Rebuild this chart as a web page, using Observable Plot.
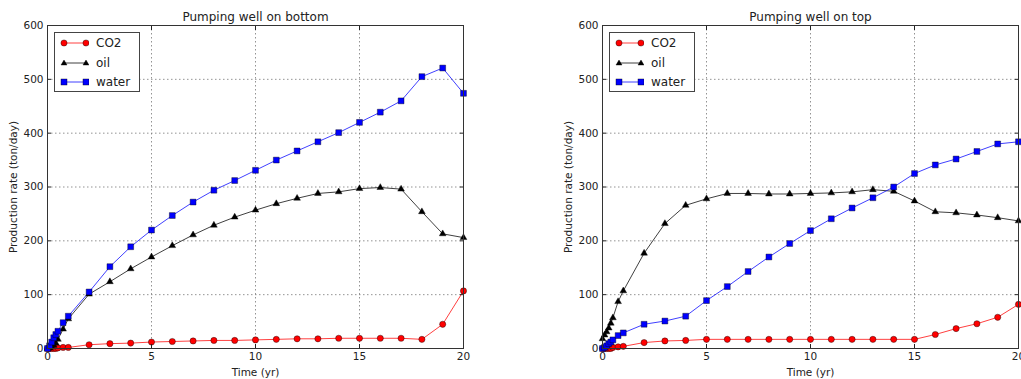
<!DOCTYPE html>
<html>
<head>
<meta charset="utf-8">
<script src="https://cdn.jsdelivr.net/npm/d3@7"></script>
<script src="https://cdn.jsdelivr.net/npm/@observablehq/plot@0.6"></script>
<style>
  html, body { margin: 0; padding: 0; background: #fff; overflow: hidden; }
  #fig { position: relative; width: 1021px; height: 379px; font-family: "DejaVu Sans", sans-serif; }
  .panel { position: absolute; top: 0; }
  .legend { position: absolute; border: 1px solid #444; background: #fff; box-sizing: border-box; font-family: "DejaVu Sans", sans-serif; font-size: 12px; color: #222; }
  .legend .row { position: absolute; left: 0; height: 18px; line-height: 18px; white-space: nowrap; }
  .legend svg { position: absolute; left: 4px; top: 0; }
  .legend span { position: absolute; left: 41px; top: 0; }
</style>
</head>
<body>
<div id="fig"></div>
<script>
// Shared time axis (years)
const time = [0, 0.1, 0.2, 0.3, 0.4, 0.5, 0.75, 1, 2, 3, 4, 5, 6, 7, 8, 9, 10, 11, 12, 13, 14, 15, 16, 17, 18, 19, 20];

// Pumping well on bottom
const bottomCO2   = [0, 0, 0, 0, 0, 1, 2, 2, 7, 9, 10, 12, 13, 14, 15, 15, 16, 17, 18, 18, 19, 19, 19, 19, 17, 45, 107];
const bottomOil   = [0, 1, 3, 6, 10, 17, 36, 55, 101, 124, 148, 170, 191, 211, 229, 244, 257, 269, 279, 288, 291, 297, 299, 296, 254, 213, 206];
const bottomWater = [0, 5, 12, 20, 26, 32, 48, 60, 105, 152, 189, 220, 247, 272, 294, 312, 331, 350, 367, 384, 401, 420, 439, 460, 505, 521, 474];

// Pumping well on top
const topCO2   = [0, 0, 0, 0, 0, 2, 3, 4, 11, 14, 15, 17, 17, 17, 17, 17, 17, 17, 17, 17, 17, 17, 26, 37, 46, 58, 82];
const topOil   = [18, 25, 31, 38, 47, 57, 87, 107, 177, 232, 266, 278, 288, 288, 287, 287, 288, 289, 291, 295, 292, 274, 254, 252, 248, 243, 237];
const topWater = [0, 2, 5, 9, 12, 16, 24, 29, 45, 51, 60, 89, 115, 143, 170, 195, 219, 241, 261, 280, 300, 325, 341, 352, 366, 380, 384];

const xTicks = [0, 5, 10, 15, 20];
const yTicks = [0, 100, 200, 300, 400, 500, 600];
const seriesNames = ["CO2", "oil", "water"];
const seriesColors = ["#ff0000", "#000000", "#0000ff"];
const seriesSymbols = ["circle", "triangle", "square"];

function buildRows(co2, oil, water) {
  const rows = [];
  [co2, oil, water].forEach((vals, i) => {
    vals.forEach((v, j) => rows.push({series: seriesNames[i], t: time[j], v}));
  });
  return rows;
}

function chart(title, co2, oil, water, width, mLeft, mRight) {
  const rows = buildRows(co2, oil, water);
  const lineMarks = seriesNames.map((s, i) =>
    Plot.line(rows.filter(d => d.series === s), {x: "t", y: "v", stroke: seriesColors[i], strokeWidth: 1, strokeOpacity: 0.75})
  );
  const dotMarks = seriesNames.map((s, i) =>
    Plot.dot(rows.filter(d => d.series === s), {
      x: "t", y: "v", symbol: seriesSymbols[i], fill: seriesColors[i],
      stroke: "#000", strokeWidth: 0.4,
      r: seriesSymbols[i] === "triangle" ? 2.5 : seriesSymbols[i] === "square" ? 3.3 : 3.1
    })
  );
  return Plot.plot({
    width, height: 379,
    marginTop: 25, marginBottom: 31, marginLeft: mLeft, marginRight: mRight,
    style: {fontFamily: "DejaVu Sans, sans-serif", fontSize: "10px", color: "#222", background: "transparent", overflow: "visible"},
    x: {domain: [0, 20]},
    y: {domain: [0, 600]},
    marks: [
      Plot.gridX(xTicks, {stroke: "#777", strokeOpacity: 1, strokeDasharray: "1.5,2.5", strokeWidth: 0.8}),
      Plot.gridY(yTicks, {stroke: "#777", strokeOpacity: 1, strokeDasharray: "1.5,2.5", strokeWidth: 0.8}),
      ...lineMarks,
      ...dotMarks,
      Plot.axisX(xTicks, {anchor: "bottom", tickSize: -4, tickPadding: 8, fontSize: 10.5, label: "Time (yr)", labelAnchor: "center", labelArrow: "none", labelOffset: 27}),
      Plot.axisX(xTicks, {anchor: "top", tickSize: -4, tickFormat: () => "", label: null}),
      Plot.axisY(yTicks, {anchor: "left", tickSize: -4, tickPadding: 8, fontSize: 10.5, label: "Production rate (ton/day)", labelAnchor: "center", labelArrow: "none", labelOffset: 38}),
      Plot.axisY(yTicks, {anchor: "right", tickSize: -4, tickFormat: () => "", label: null}),
      Plot.frame({stroke: "#333", strokeWidth: 1}),
      Plot.text([title], {frameAnchor: "top", dy: -13, fontSize: 12, fill: "#222"})
    ]
  });
}

function legend(left) {
  const div = document.createElement("div");
  div.className = "legend";
  div.style.left = left + "px";
  div.style.top = "32px";
  div.style.width = "86px";
  div.style.height = "60px";
  const shapes = {
    circle: (c, x) => `<circle cx="${x}" cy="9" r="3.1" fill="${c}" stroke="#000" stroke-width="0.4"/>`,
    triangle: (c, x) => `<path d="M${x},6 L${x + 3},11 L${x - 3},11 Z" fill="${c}" stroke="#000" stroke-width="0.4"/>`,
    square: (c, x) => `<rect x="${x - 3}" y="6" width="6" height="6" fill="${c}" stroke="#000" stroke-width="0.4"/>`
  };
  seriesNames.forEach((s, i) => {
    const row = document.createElement("div");
    row.className = "row";
    row.style.top = (1 + i * 19.5) + "px";
    row.innerHTML = `<svg width="30" height="18"><line x1="5" x2="27" y1="9" y2="9" stroke="${seriesColors[i]}" stroke-opacity="0.75"/>${shapes[seriesSymbols[i]](seriesColors[i], 5)}${shapes[seriesSymbols[i]](seriesColors[i], 27)}</svg><span>${s}</span>`;
    div.appendChild(row);
  });
  return div;
}

const fig = document.getElementById("fig");
const p1 = document.createElement("div"); p1.className = "panel"; p1.style.left = "0px";
p1.appendChild(chart("Pumping well on bottom", bottomCO2, bottomOil, bottomWater, 480, 47, 17));
const p2 = document.createElement("div"); p2.className = "panel"; p2.style.left = "540px";
p2.appendChild(chart("Pumping well on top", topCO2, topOil, topWater, 481, 62, 3));
fig.appendChild(p1);
fig.appendChild(p2);
fig.appendChild(legend(54));
fig.appendChild(legend(609));
</script>
</body>
</html>
